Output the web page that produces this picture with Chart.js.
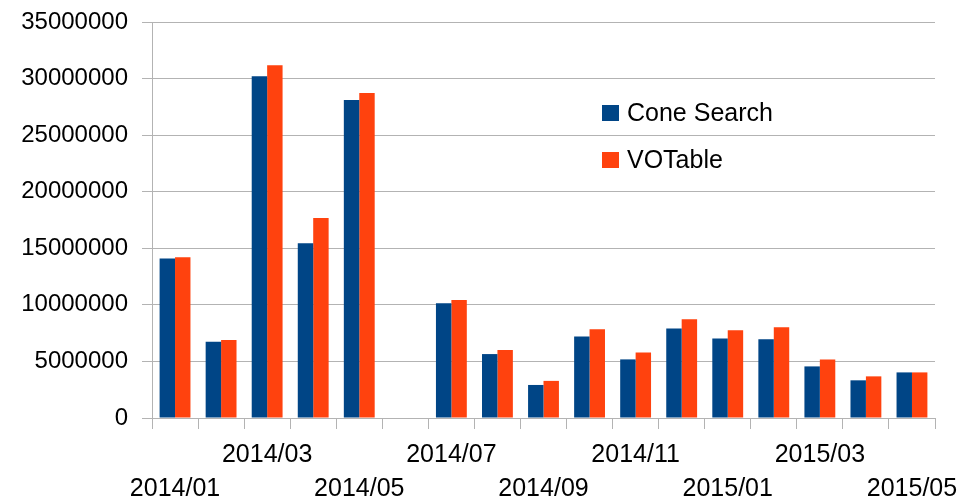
<!DOCTYPE html>
<html>
<head>
<meta charset="utf-8">
<script src="https://cdn.jsdelivr.net/npm/chart.js@4/dist/chart.umd.min.js"></script>
<style>
  body { margin: 0; background: #fff; }
  #wrap { width: 974px; height: 498px; }
</style>
</head>
<body>
<div id="wrap"><canvas id="myChart" width="974" height="498"></canvas></div>
<script>
// months on the x axis
var months = ['2014/01', '2014/02', '2014/03', '2014/04', '2014/05', '2014/06',
              '2014/07', '2014/08', '2014/09', '2014/10', '2014/11', '2014/12',
              '2015/01', '2015/02', '2015/03', '2015/04', '2015/05'];

var coneSearch = [14100000, 6750000, 30200000, 15450000, 28100000, 0,
                  10150000, 5650000, 2920000, 7200000, 5180000, 7920000,
                  7030000, 6950000, 4560000, 3330000, 4030000];

var voTable = [14200000, 6900000, 31180000, 17680000, 28720000, 0,
               10420000, 6000000, 3280000, 7840000, 5800000, 8720000,
               7750000, 8010000, 5180000, 3680000, 4030000];

var yTicks = [0, 5000000, 10000000, 15000000, 20000000, 25000000, 30000000, 35000000];

var FONT = 'Liberation Sans, Arial, sans-serif';

// legend drawn inside the plot, like the LibreOffice original
var innerLegend = {
  id: 'innerLegend',
  afterDraw: function (chart) {
    var ctx = chart.ctx;
    ctx.save();
    ctx.font = '25px ' + FONT;
    ctx.textBaseline = 'middle';
    chart.data.datasets.forEach(function (ds, i) {
      var y = 113 + i * 47;
      ctx.fillStyle = ds.backgroundColor;
      ctx.fillRect(602, y - 8, 17, 16);
      ctx.fillStyle = '#000';
      ctx.fillText(ds.label, 627, y + 1);
    });
    ctx.restore();
  }
};

var myChart = new Chart(document.getElementById('myChart').getContext('2d'), {
  type: 'bar',
  data: {
    labels: months,
    datasets: [{
      label: 'Cone Search',
      data: coneSearch,
      backgroundColor: '#004586',
      borderWidth: 0,
      categoryPercentage: 0.67,
      barPercentage: 1.0
    }, {
      label: 'VOTable',
      data: voTable,
      backgroundColor: '#ff420e',
      borderWidth: 0,
      categoryPercentage: 0.67,
      barPercentage: 1.0
    }]
  },
  options: {
    responsive: false,
    animation: false,
    layout: { padding: { left: 0, right: 39, top: 22, bottom: 0 } },
    plugins: {
      legend: { display: false },
      tooltip: { enabled: false }
    },
    scales: {
      x: {
        offset: true,
        grid: {
          offset: true,
          drawOnChartArea: false,
          drawTicks: true,
          tickLength: 11,
          color: '#b3b3b3',
          lineWidth: 1
        },
        border: { color: '#b3b3b3', width: 1 },
        ticks: {
          autoSkip: false,
          maxRotation: 0,
          minRotation: 0,
          padding: 9,
          color: '#000',
          font: { family: FONT, size: 25, lineHeight: 1.36 },
          callback: function (val, i) {
            var m = months[i];
            if (i % 4 === 0) return ['', m];
            if (i % 4 === 2) return [m, ''];
            return '';
          }
        },
        afterFit: function (scale) { scale.height = 80; }
      },
      y: {
        min: 0,
        max: yTicks[yTicks.length - 1],
        afterBuildTicks: function (scale) {
          scale.ticks = yTicks.map(function (v) { return { value: v }; });
        },
        grid: {
          color: '#b3b3b3',
          lineWidth: 1,
          drawTicks: true,
          tickLength: 10
        },
        border: { color: '#b3b3b3', width: 1 },
        ticks: {
          padding: 14,
          color: '#000',
          font: { family: FONT, size: 24 },
          callback: function (v) { return String(v); }
        },
        afterFit: function (scale) {
          scale.width = 152;
          scale.paddingTop = 0;
          scale.paddingBottom = 0;
        }
      }
    }
  },
  plugins: [innerLegend]
});
</script>
</body>
</html>
